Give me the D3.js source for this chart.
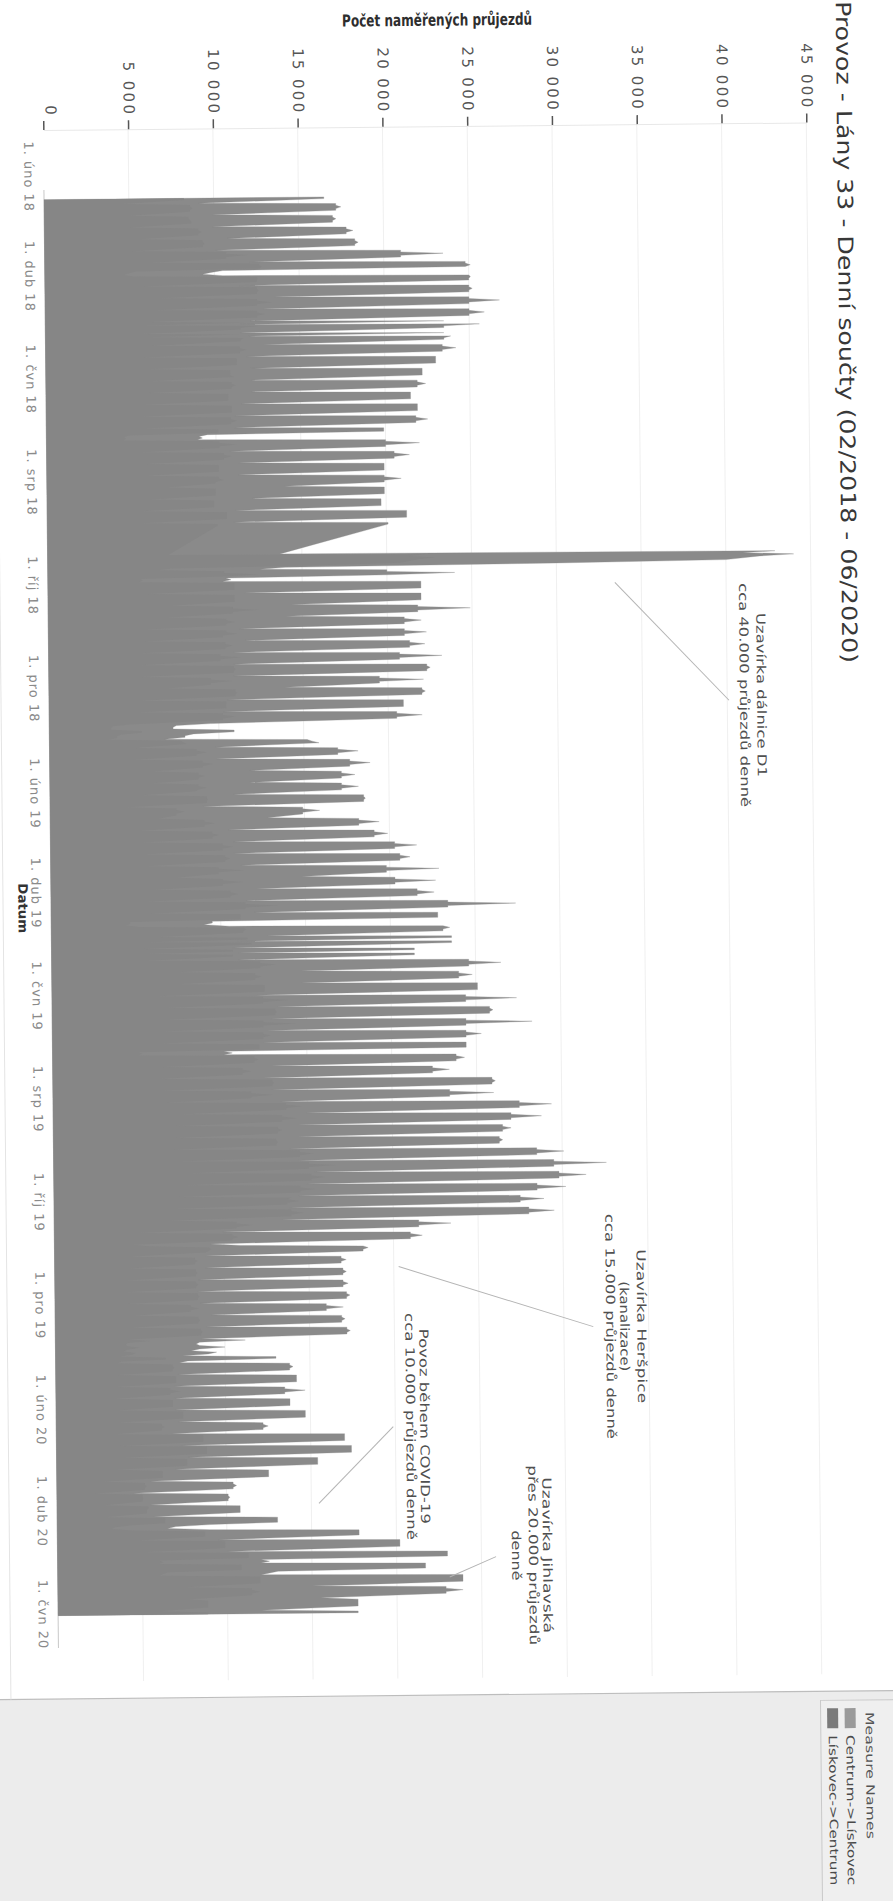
<!DOCTYPE html>
<html>
<head>
<meta charset="utf-8">
<script src="https://cdn.jsdelivr.net/npm/d3@7"></script>
<style>
  body { margin: 0; background: #fff; }
  svg { display: block; }
</style>
</head>
<body>
<div id="chart"></div>
<script>
// Daily traffic totals, Lány 33 (Tableau sheet, printed sideways and scanned).
// Value axis runs along the top, dates run down the page.

const FIRST_MONDAY = '2018-02-12';
const FIRST_DAY = '2018-02-15';
const LAST_DAY = '2020-06-02';
const GAP = ['2018-08-29', '2018-09-13'];   // no counts in this span

// weekly readings, thousands of passes: Mon-Fri level, midweek peak, Sat, Sun
const wkTop = [
  16.5, 17.2, 17.0, 17.8, 18.3, 21.0, 24.8, 25.0, 25.0, 25.0,
  25.0, 23.5, 23.5, 23.4, 23.0, 22.2, 21.9, 21.5, 21.9, 21.8,
  19.9, 20.0, 20.5, 19.9, 19.9, 19.9, 19.7, 21.2, 20.1, null,
  null, 40.0, 20.0, 22.0, 22.0, 21.8, 21.0, 21.0, 21.3, 20.7,
  22.3, 19.5, 22.0, 20.9, 20.5, 10.9, 15.5, 17.0, 17.7, 17.2,
  17.2, 18.5, 14.9, 18.2, 19.1, 20.3, 20.6, 19.8, 20.3, 21.6,
  23.4, 22.8, 23.1, 23.6, 21.4, 24.6, 24.0, 25.1, 24.4, 25.8,
  24.4, 24.4, 24.4, 23.8, 22.4, 25.9, 23.4, 27.5, 27.0, 26.5,
  26.3, 28.5, 29.5, 29.8, 28.5, 27.5, 28.0, 21.5, 21.0, 18.2,
  16.9, 17.0, 17.0, 17.2, 16.0, 16.9, 17.2, 10.0, 13.0, 13.8,
  14.2, 13.5, 13.8, 14.7, 12.2, 17.0, 17.4, 15.4, 12.5, 10.4,
  10.1, 10.8, 13.0, 17.8, 20.2, 23.0, 21.7, 23.9, 22.9, 17.7,
  17.7
];
const wkPeak = [
  16.5, 17.5, 17.2, 18.2, 18.5, 23.5, 25.1, 25.1, 25.2, 26.8,
  25.9, 25.6, 23.9, 24.2, 23.0, 22.2, 22.4, 21.5, 21.9, 22.5,
  19.9, 22.0, 21.4, 19.9, 20.9, 19.9, 19.7, 21.2, 20.1, null,
  null, 40.0, 24.0, 22.0, 22.0, 24.9, 22.0, 22.3, 22.2, 23.2,
  22.5, 22.1, 22.2, 20.9, 22.0, 10.9, 15.9, 18.2, 18.9, 18.0,
  18.2, 18.6, 15.9, 19.4, 19.9, 21.6, 21.2, 22.9, 22.7, 22.6,
  27.4, 22.8, 23.5, 23.6, 21.4, 26.5, 24.8, 25.1, 27.4, 26.0,
  28.3, 25.3, 24.4, 24.3, 23.4, 26.1, 26.0, 29.4, 28.8, 27.0,
  26.5, 30.1, 32.6, 31.4, 30.2, 28.9, 29.5, 23.4, 21.7, 18.5,
  17.2, 17.2, 17.3, 17.4, 17.0, 17.1, 17.4, 10.0, 13.0, 14.0,
  14.2, 14.7, 13.8, 14.7, 12.5, 17.0, 17.4, 15.4, 12.5, 10.6,
  10.2, 10.8, 13.0, 17.8, 20.2, 23.0, 21.7, 23.9, 23.9, 17.7,
  17.7
];
const wkSat = [
  12.8, 13.6, 13.5, 14.3, 14.2, 16.6, 9.8, 18.3, 19.3, 18.9,
  18.6, 17.5, 18.2, 17.6, 17.6, 17.2, 17.0, 16.5, 16.5, 16.5,
  9.2, 15.4, 15.9, 15.6, 17.0, 16.0, 15.4, 16.1, null, null,
  null, 14.0, 10.8, 16.8, 18.2, 17.9, 16.2, 16.3, 16.1, 15.8,
  16.6, 16.7, 16.3, 15.6, 15.0, 8.5, 12.7, 13.4, 14.8, 14.5,
  14.0, 13.8, 13.9, 14.4, 15.0, 15.6, 15.9, 17.3, 16.2, 16.6,
  17.7, 9.5, 17.9, 17.2, 16.2, 19.7, 19.4, 18.6, 18.8, 19.4,
  18.5, 18.4, 10.6, 18.4, 17.4, 19.4, 18.4, 21.2, 20.7, 20.5,
  20.1, 21.5, 22.5, 22.4, 21.5, 20.7, 20.7, 15.7, 15.1, 13.6,
  12.9, 12.8, 12.7, 12.9, 12.6, 12.9, 12.9, 8.5, 7.8, 10.5,
  10.6, 10.3, 10.4, 11.0, 9.5, 12.2, 12.6, 11.2, 9.0, 7.5,
  7.8, 8.3, 7.0, 13.7, 15.1, 12.5, 12.5, 19.5, 19.2, 14.9,
  null
];
const wkSun = [
  9.1, 9.9, 9.9, 10.8, 10.1, 12.1, 9.3, 11.5, 13.5, 12.8,
  12.1, 11.5, 12.8, 11.8, 12.1, 12.1, 12.1, 11.5, 11.1, 11.1,
  8.9, 10.8, 11.3, 11.3, 14.0, 12.1, 11.1, 11.0, null, null,
  null, 12.5, 10.3, 11.6, 14.3, 14.0, 11.3, 11.6, 10.9, 10.9,
  10.9, 13.9, 10.5, 10.3, 9.5, 8.0, 9.8, 9.8, 11.8, 11.8,
  10.8, 9.0, 12.8, 10.5, 10.8, 10.8, 11.2, 14.8, 12.1, 11.5,
  12.0, 9.0, 12.7, 10.7, 11.0, 14.7, 14.7, 12.0, 13.2, 12.9,
  12.6, 12.4, 10.1, 12.9, 12.4, 12.9, 13.4, 14.9, 14.4, 14.4,
  13.9, 14.4, 15.4, 14.9, 14.4, 13.9, 13.4, 9.9, 9.2, 8.9,
  8.9, 8.5, 8.4, 8.6, 9.2, 8.9, 8.6, 8.0, 7.3, 7.2,
  7.0, 7.0, 7.0, 7.2, 6.8, 7.4, 7.8, 7.0, 5.5, 4.5,
  5.5, 5.7, 6.5, 9.5, 10.0, 12.0, 12.0, 15.0, 15.5, 12.0,
  null
];

// holidays, D1 closure and other single days, thousands
const dayOverrides = [
  ['2018-03-30', 10.5], ['2018-04-02', 10.5], ['2018-05-01', 11.5], ['2018-05-08', 12.0],
  ['2018-07-05', 9.5], ['2018-07-06', 9.0],
  ['2018-09-14', 13.7], ['2018-09-15', 42.9], ['2018-09-16', 41.0], ['2018-09-17', 44.0],
  ['2018-09-18', 42.0], ['2018-09-19', 41.0], ['2018-09-20', 40.0], ['2018-09-21', 30.0],
  ['2018-09-22', 14.0], ['2018-09-23', 12.5], ['2018-09-28', 10.5],
  ['2018-12-24', 7.5], ['2018-12-25', 7.3], ['2018-12-26', 7.3], ['2018-12-27', 10.9],
  ['2018-12-28', 10.9], ['2018-12-29', 8.5], ['2018-12-30', 8.0], ['2018-12-31', 8.0],
  ['2019-01-01', 6.8], ['2019-01-02', 15.2], ['2019-01-03', 15.5], ['2019-01-04', 15.9],
  ['2019-04-19', 9.5], ['2019-04-22', 10.5], ['2019-05-01', 11.0], ['2019-05-08', 11.0],
  ['2019-07-05', 10.1], ['2019-10-28', 11.0],
  ['2019-12-23', 11.2], ['2019-12-24', 8.5], ['2019-12-25', 8.3], ['2019-12-26', 8.5],
  ['2019-12-27', 10.0], ['2019-12-28', 8.5], ['2019-12-29', 8.0], ['2019-12-30', 9.5],
  ['2019-12-31', 9.0], ['2020-01-01', 7.5], ['2020-01-02', 13.0], ['2020-01-03', 13.0],
  ['2020-04-10', 9.0], ['2020-04-13', 9.0], ['2020-05-01', 12.0], ['2020-05-08', 13.0]
];

// monthly share of Centrum->Lískovec in the daily total, Feb 2018 .. Jun 2020
const shareOut = [
  0.50, 0.49, 0.50, 0.51, 0.50, 0.49, 0.50, 0.48, 0.50, 0.51, 0.50,
  0.49, 0.50, 0.50, 0.51, 0.50, 0.49, 0.50, 0.50, 0.49, 0.50, 0.51,
  0.50, 0.50, 0.49, 0.50, 0.51, 0.50, 0.50
];

const seriesNames = ['Centrum->Lískovec', 'Lískovec->Centrum'];
const seriesColors = ['#8a8a8a', '#868686'];
const swatchColors = ['#9a9a9a', '#7a7a7a'];
const valueTicks = [0, 5000, 10000, 15000, 20000, 25000, 30000, 35000, 40000, 45000];
const dateTicks = [
  '2018-02-01', '2018-04-01', '2018-06-01', '2018-08-01', '2018-10-01', '2018-12-01',
  '2019-02-01', '2019-04-01', '2019-06-01', '2019-08-01', '2019-10-01', '2019-12-01',
  '2020-02-01', '2020-04-01', '2020-06-01'
];
const monthAbbr = ['led', 'úno', 'bře', 'dub', 'kvě', 'čvn', 'čvc', 'srp', 'zář', 'říj', 'lis', 'pro'];

const titleText = 'Provoz - Lány 33 - Denní součty (02/2018 - 06/2020)';
const valueTitle = 'Počet naměřených průjezdů';
const dateTitle = 'Datum';
const notes = [
  { lines: ['Uzavírka dálnice D1', 'cca 40.000 průjezdů denně'], xs: [762, 745], lens: [164, 224], y: 702,
    from: [617, 588], to: [730, 707] },
  { lines: ['Uzavírka Heršpice', '(kanalizace)', 'cca 15.000 průjezdů denně'], xs: [636, 619, 605], lens: [154, 90, 225], y: 1332,
    from: [394, 1270], to: [588, 1332] },
  { lines: ['Povoz během COVID-19', 'cca 10.000 průjezdů denně'], xs: [418, 404], lens: [195, 227], y: 1430,
    from: [387, 1430], to: [312, 1506] },
  { lines: ['Uzavírka Jihlavská', 'přes 20.000 průjezdů', 'denně'], xs: [539.5, 525.5, 508.5], lens: [156, 180, 50], y: 1560,
    from: [488.5, 1561], to: [442, 1581] }
];

// ---- daily table ----
const parse = d3.utcParse('%Y-%m-%d');
const iso = d3.utcFormat('%Y-%m-%d');
const over = new Map(dayOverrides);
const monday0 = parse(FIRST_MONDAY);
const month0 = parse('2018-02-01');

const rows = [];
for (const day of d3.utcDay.range(parse(FIRST_DAY), d3.utcDay.offset(parse(LAST_DAY), 1))) {
  const key = iso(day);
  if (key >= GAP[0] && key <= GAP[1]) continue;
  const n = d3.utcDay.count(monday0, day);
  const k = Math.floor(n / 7), dow = n % 7;
  let t;
  if (over.has(key)) t = over.get(key);
  else if (dow === 5) t = wkSat[k];
  else if (dow === 6) t = wkSun[k];
  else if (dow === 2) t = wkPeak[k];
  else t = wkTop[k];
  const s = shareOut[d3.utcMonth.count(month0, day)];
  rows.push({ date: day, [seriesNames[0]]: t * 1000 * s, [seriesNames[1]]: t * 1000 * (1 - s) });
}

// ---- scales ----
const x = d3.scaleLinear().domain([0, 45000]).range([50, 813]);
const y = d3.scaleUtc().domain([parse('2018-02-01'), parse('2020-06-01')]).range([176, 1614]);

const svg = d3.select('#chart').append('svg')
  .attr('width', 893).attr('height', 1901).attr('viewBox', '0 0 893 1901');
svg.append('rect').attr('width', 893).attr('height', 1901).attr('fill', '#fff');

// the scan is a touch crooked
const page = svg.append('g').attr('transform', 'rotate(-0.57 50 800)');

// grey strip under the sheet
page.append('rect').attr('x', -30).attr('y', 1699).attr('width', 960).attr('height', 260).attr('fill', '#ececec');
page.append('line').attr('x1', -30).attr('x2', 930).attr('y1', 1699).attr('y2', 1699)
  .attr('stroke', '#bdbdbd').attr('stroke-width', 1.2);
page.append('line').attr('x1', 2).attr('x2', 2).attr('y1', -20).attr('y2', 1699)
  .attr('stroke', '#e4e4e4');

// gridlines
page.append('g').selectAll('line')
  .data(valueTicks.slice(1))
  .join('line')
  .attr('x1', d => x(d)).attr('x2', d => x(d))
  .attr('y1', 130).attr('y2', 1682)
  .attr('stroke', '#f0f0f0').attr('stroke-width', 1);

// zero line
page.append('line').attr('x1', x(0)).attr('x2', x(0)).attr('y1', 190).attr('y2', 1648)
  .attr('stroke', '#c8c8c8');

// stacked areas: each layer is painted from the zero line to its own top,
// outer layer first, so the shared edge leaves no hairline seam
const stack = d3.stack().keys([seriesNames[1], seriesNames[0]]);
const series = stack(rows);
const color = d3.scaleOrdinal().domain(seriesNames).range(seriesColors);
const area = d3.area()
  .y(d => y(d.data.date))
  .x0(x(0))
  .x1(d => x(d[1]));

page.append('g').selectAll('path')
  .data(series.slice().reverse())
  .join('path')
  .attr('d', area)
  .attr('fill', d => color(d.key))
  .attr('stroke', d => d.key === seriesNames[0] ? color(d.key) : 'none')
  .attr('stroke-width', 0.3);

// value axis (top)
const fmtNum = d3.formatLocale({ decimal: ',', thousands: ' ', grouping: [3], currency: ['', ''] }).format(',d');
const ax = page.append('g')
  .attr('transform', 'translate(0,130)')
  .call(d3.axisTop(x).tickValues(valueTicks).tickFormat(fmtNum).tickSizeInner(9).tickSizeOuter(0).tickPadding(0));
ax.attr('font-family', null).attr('font-size', null);
ax.select('.domain').attr('stroke', '#e8e8e8');
ax.selectAll('.tick line').attr('stroke', '#555').attr('stroke-width', 1.5);
ax.selectAll('.tick text')
  .attr('transform', 'rotate(90)')
  .attr('x', -13).attr('y', d => d === 0 ? -2 : 4.7).attr('dy', 0)
  .attr('text-anchor', 'end')
  .attr('fill', '#555')
  .style('font', '15px "DejaVu Sans", sans-serif')
  .style('letter-spacing', '2.3px');

// date axis (left)
const fmtDate = d => `1. ${monthAbbr[d.getUTCMonth()]} ${String(d.getUTCFullYear()).slice(2)}`;
const ay = page.append('g')
  .attr('transform', `translate(${x(0)},0)`)
  .call(d3.axisLeft(y).tickValues(dateTicks.map(parse)).tickFormat(fmtDate).tickSize(0));
ay.attr('font-family', null).attr('font-size', null);
ay.select('.domain').remove();
ay.selectAll('.tick text')
  .attr('transform', 'rotate(90)')
  .attr('x', 0).attr('y', 19.5).attr('dy', 0)
  .attr('text-anchor', 'middle')
  .attr('fill', '#8a8a8a')
  .style('font', '13px "DejaVu Sans", sans-serif')
  .style('letter-spacing', '1px');

// vertical text helper: reads top to bottom
function vtext(g, cx, cy, str, len, size, fill, weight, anchor) {
  return g.append('text')
    .attr('transform', `translate(${cx},${cy}) rotate(90)`)
    .attr('text-anchor', anchor || 'middle')
    .attr('textLength', len)
    .attr('lengthAdjust', 'spacingAndGlyphs')
    .attr('fill', fill)
    .style('font-family', '"DejaVu Sans", sans-serif')
    .style('font-size', size + 'px')
    .style('font-weight', weight || 'normal')
    .text(str);
}

// titles
vtext(page, 843.7, 9, titleText, 662, 21, '#383838', 'normal', 'start');
vtext(page, 17.3, 908, dateTitle, 50, 13, '#333', 'bold');
page.append('text')
  .attr('x', 444.8).attr('y', 29.5)
  .attr('text-anchor', 'middle')
  .attr('textLength', 190).attr('lengthAdjust', 'spacingAndGlyphs')
  .attr('fill', '#2e2e2e')
  .style('font', 'bold 16.5px "Liberation Sans Narrow", "DejaVu Sans Condensed", sans-serif')
  .text(valueTitle);

// annotations
const ann = page.append('g');
notes.forEach(n => {
  ann.append('line')
    .attr('x1', n.from[0]).attr('y1', n.from[1]).attr('x2', n.to[0]).attr('y2', n.to[1])
    .attr('stroke', '#b4b4b4').attr('stroke-width', 1);
  n.lines.forEach((ln, i) => vtext(ann, n.xs[i] - 4, n.y, ln, n.lens[i], 12.5, '#505050'));
});

// legend
const lg = page.append('g');
lg.append('rect').attr('x', 811.5).attr('y', 1708).attr('width', 120).attr('height', 240)
  .attr('fill', '#efefef').attr('stroke', '#c9c9c9');
vtext(lg, 860.5 - 4, 1720, 'Measure Names', 127, 11.5, '#555', 'normal', 'start');
const legendX = [841, 823.5];
seriesNames.forEach((name, i) => {
  lg.append('rect').attr('x', legendX[i] - 5.5).attr('y', 1716).attr('width', 11).attr('height', 20)
    .attr('fill', swatchColors[i]);
  vtext(lg, legendX[i] - 4, 1743, name, 150, 11.5, '#4a4a4a', 'normal', 'start');
});
</script>
</body>
</html>
